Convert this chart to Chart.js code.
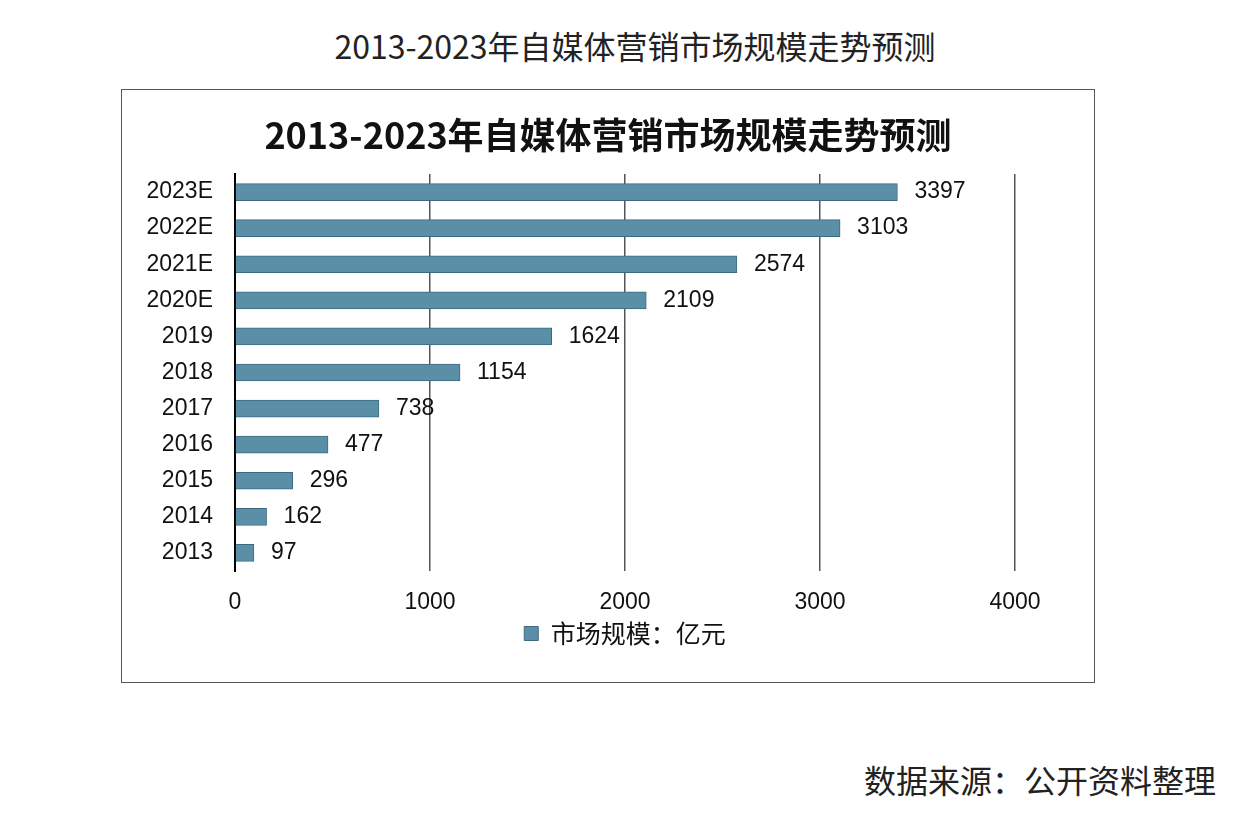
<!DOCTYPE html>
<html>
<head>
<meta charset="utf-8">
<script src="https://cdn.jsdelivr.net/npm/chart.js@4"></script>
<style>
  body { margin: 0; background: #fff; }
  #page { position: relative; width: 1240px; height: 826px; font-family: "Noto Sans CJK SC", sans-serif; }
  #outerTitle { position: absolute; left: 0; width: 1270px; top: 22px; text-align: center; font-size: 32px; color: #222; }
  #frame { position: absolute; left: 121px; top: 89px; width: 974px; height: 594px; border: 1.5px solid #555; box-sizing: border-box; }
  #wrap { position: absolute; left: 121px; top: 89px; width: 974px; height: 594px; }
  #source { position: absolute; right: 24px; top: 756px; font-size: 32px; color: #222; }
</style>
</head>
<body>
<div id="page">
  <div id="outerTitle">2013-2023年自媒体营销市场规模走势预测</div>
  <div id="frame"></div>
  <div id="wrap"><canvas id="mkt" width="974" height="594"></canvas></div>
  <div id="source">数据来源：公开资料整理</div>
</div>
<script>
const innerTitle = "2013-2023年自媒体营销市场规模走势预测";
const years = ["2013", "2014", "2015", "2016", "2017", "2018", "2019", "2020E", "2021E", "2022E", "2023E"];
const marketSize = [97, 162, 296, 477, 738, 1154, 1624, 2109, 2574, 3103, 3397];
const seriesName = "市场规模：亿元";
const xTicks = [0, 1000, 2000, 3000, 4000];

const latin = '"Liberation Sans", Arial, sans-serif';

const titlePlugin = {
    id: "innerTitle",
    afterDraw(chart) {
        const ctx = chart.ctx;
        ctx.save();
        ctx.font = 'bold 36px "Noto Sans CJK SC"';
        ctx.fillStyle = "#111";
        ctx.textAlign = "center";
        ctx.textBaseline = "middle";
        ctx.fillText(innerTitle, chart.width / 2, 46);
        ctx.restore();
    }
};

const valueLabels = {
    id: "valueLabels",
    afterDatasetsDraw(chart) {
        const ctx = chart.ctx;
        const meta = chart.getDatasetMeta(0);
        ctx.save();
        ctx.font = "23px " + latin;
        ctx.fillStyle = "#111";
        ctx.textAlign = "left";
        ctx.textBaseline = "middle";
        meta.data.forEach((bar, i) => {
            ctx.fillText(String(marketSize[i]), bar.x + 17, bar.y);
        });
        ctx.restore();
    }
};

new Chart(document.getElementById("mkt"), {
    type: "bar",
    data: {
        labels: years,
        datasets: [
            {
                label: seriesName,
                data: marketSize,
                backgroundColor: "#5b8fa8",
                borderColor: "#3d6a80",
                borderWidth: 1,
                barThickness: 17
            }
        ]
    },
    options: {
        indexAxis: "y",
        responsive: false,
        animation: false,
        devicePixelRatio: 1,
        layout: { padding: { left: 0, right: 80, top: 85, bottom: 27 } },
        scales: {
            x: {
                min: 0,
                max: 4000,
                afterBuildTicks(scale) {
                    scale.ticks = xTicks.map(v => ({ value: v }));
                },
                afterFit(scale) { scale.height = 40; },
                grid: { color: "#555", lineWidth: 1.5, drawTicks: false },
                border: { display: false },
                ticks: {
                    padding: 18,
                    color: "#111",
                    font: { family: latin, size: 23 },
                    callback: v => String(v)
                }
            },
            y: {
                reverse: true,
                afterFit(scale) { scale.width = 114; },
                grid: { display: false, drawTicks: false },
                border: { color: "#000", width: 2 },
                ticks: {
                    padding: 22,
                    color: "#111",
                    font: { family: latin, size: 23 }
                }
            }
        },
        plugins: {
            legend: {
                position: "bottom",
                fullSize: false,
                labels: {
                    boxWidth: 14,
                    boxHeight: 14,
                    padding: 10,
                    color: "#111",
                    font: { family: '"Noto Sans CJK SC"', size: 25 }
                }
            },
            tooltip: { enabled: false }
        }
    },
    plugins: [titlePlugin, valueLabels]
});
</script>
</body>
</html>
